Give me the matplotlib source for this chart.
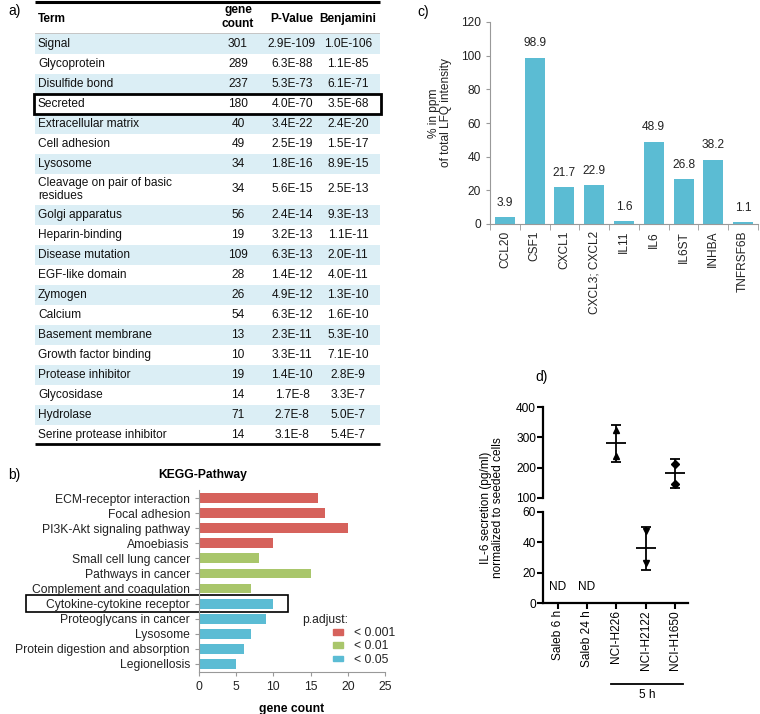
import matplotlib.pyplot as plt
from matplotlib.patches import Rectangle, Patch
import matplotlib.transforms as mtransforms

plt.rcParams['font.family'] = ['Liberation Sans', 'DejaVu Sans']

# ---- a) functional annotation table
terms = ["Signal", "Glycoprotein", "Disulfide bond", "Secreted", "Extracellular matrix",
         "Cell adhesion", "Lysosome", "Cleavage on pair of basic\nresidues", "Golgi apparatus",
         "Heparin-binding", "Disease mutation", "EGF-like domain", "Zymogen", "Calcium",
         "Basement membrane", "Growth factor binding", "Protease inhibitor", "Glycosidase",
         "Hydrolase", "Serine protease inhibitor"]
gene_counts = [301, 289, 237, 180, 40, 49, 34, 34, 56, 19, 109, 28, 26, 54, 13, 10, 19, 14, 71, 14]
p_values = ["2.9E-109", "6.3E-88", "5.3E-73", "4.0E-70", "3.4E-22", "2.5E-19", "1.8E-16",
            "5.6E-15", "2.4E-14", "3.2E-13", "6.3E-13", "1.4E-12", "4.9E-12", "6.3E-12",
            "2.3E-11", "3.3E-11", "1.4E-10", "1.7E-8", "2.7E-8", "3.1E-8"]
benjamini = ["1.0E-106", "1.1E-85", "6.1E-71", "3.5E-68", "2.4E-20", "1.5E-17", "8.9E-15",
             "2.5E-13", "9.3E-13", "1.1E-11", "2.0E-11", "4.0E-11", "1.3E-10", "1.6E-10",
             "5.3E-10", "7.1E-10", "2.8E-9", "3.3E-7", "5.0E-7", "5.4E-7"]
highlight_term = "Secreted"

# ---- b) KEGG pathways
kegg_terms = ["ECM-receptor interaction", "Focal adhesion", "PI3K-Akt signaling pathway",
              "Amoebiasis", "Small cell lung cancer", "Pathways in cancer",
              "Complement and coagulation", "Cytokine-cytokine receptor",
              "Proteoglycans in cancer", "Lysosome", "Protein digestion and absorption",
              "Legionellosis"]
kegg_counts = [16, 17, 20, 10, 8, 15, 7, 10, 9, 7, 6, 5]
kegg_padj = ["< 0.001", "< 0.001", "< 0.001", "< 0.001", "< 0.01", "< 0.01", "< 0.01",
             "< 0.05", "< 0.05", "< 0.05", "< 0.05", "< 0.05"]
kegg_highlight = "Cytokine-cytokine receptor"
padj_levels = ["< 0.001", "< 0.01", "< 0.05"]
padj_colors = {"< 0.001": "#d6625c", "< 0.01": "#a9c66b", "< 0.05": "#5bbcd4"}

# ---- c) cytokines
cyto_names = ["CCL20", "CSF1", "CXCL1", "CXCL3; CXCL2", "IL11", "IL6", "IL6ST", "INHBA", "TNFRSF6B"]
cyto_ppm = [3.9, 98.9, 21.7, 22.9, 1.6, 48.9, 26.8, 38.2, 1.1]

# ---- d) IL-6 secretion
il6_groups = ["Saleb 6 h", "Saleb 24 h", "NCI-H226", "NCI-H2122", "NCI-H1650"]
il6_mean = [None, None, 281, 36, 181]
il6_sd = [None, None, 61, 14, 47]
il6_points = [[], [], [323, 237], [47.5, 26.5], [213, 147]]
il6_markers = [None, None, "^", "v", "D"]

W, H = 760, 714
fig = plt.figure(figsize=(W / 100, H / 100), dpi=100)


def box(l, t, r, b):
    return [l / W, 1 - b / H, (r - l) / W, (b - t) / H]


# ================= a)
axt = fig.add_axes(box(35, 2, 380, 445))
axt.set_xlim(0, 345)
axt.set_ylim(443, 0)
axt.axis('off')
fs = 8.6
axt.plot([0, 345], [0, 0], color='black', lw=2.2, solid_capstyle='butt', clip_on=False)
axt.text(3, 17, "Term", fontsize=fs, fontweight='bold', va='center')
axt.text(203, 15, "gene\ncount", fontsize=fs, fontweight='bold', va='center', ha='center', linespacing=1.15)
axt.text(257, 17, "P-Value", fontsize=fs, fontweight='bold', va='center', ha='center')
axt.text(313, 17, "Benjamini", fontsize=fs, fontweight='bold', va='center', ha='center')
axt.plot([0, 345], [31, 31], color='#bbbbbb', lw=0.6)
y = 32
for i, t in enumerate(terms):
    h = 20 + 11 * t.count("\n")
    if i % 2 == 0:
        axt.add_patch(Rectangle((0, y), 345, h, color='#dbeef5', lw=0))
    axt.text(3, y + h / 2, t, fontsize=fs, va='center', linespacing=1.05, color='#111')
    axt.text(203, y + h / 2, str(gene_counts[i]), fontsize=fs, va='center', ha='center', color='#111')
    axt.text(257, y + h / 2, p_values[i], fontsize=fs, va='center', ha='center', color='#111')
    axt.text(313, y + h / 2, benjamini[i], fontsize=fs, va='center', ha='center', color='#111')
    if t == highlight_term:
        axt.add_patch(Rectangle((-1.5, y), 347, h, fill=False, ec='black', lw=2, clip_on=False, zorder=5))
    y += h
axt.plot([0, 345], [y - 1, y - 1], color='black', lw=2, solid_capstyle='butt', clip_on=False)

# ================= b)
fsb = 8.7
axb = fig.add_axes(box(199, 490, 385, 672))
pos = list(range(len(kegg_terms)))
axb.barh(pos, kegg_counts, height=0.66, color=[padj_colors[p] for p in kegg_padj])
axb.set_xlim(0, 25)
axb.set_ylim(len(kegg_terms) - 0.45, -0.55)
axb.set_yticks(pos)
axb.set_yticklabels(kegg_terms, fontsize=fsb, color='#222')
axb.set_xticks(range(0, 26, 5))
axb.tick_params(axis='x', labelsize=fsb, labelcolor='#222', color='#999', length=3)
axb.tick_params(axis='y', color='#999', length=3)
for s in ['top', 'right']:
    axb.spines[s].set_visible(False)
for s in ['left', 'bottom']:
    axb.spines[s].set_color('#999')
axb.set_xlabel("gene count", fontsize=fsb, fontweight='bold', labelpad=7)
k = kegg_terms.index(kegg_highlight)
axb.add_patch(Rectangle((-23.3, k - 0.56), 35.2, 1.12, fill=False, ec='black', lw=1.2, clip_on=False))
fig.text(203 / W, 1 - 475 / H, "KEGG-Pathway", fontsize=fsb, fontweight='bold', ha='center', va='center')
fig.text(302 / W, 1 - 620 / H, "p.adjust:", fontsize=fsb, va='center', color='#222')
handles = [Patch(color=padj_colors[p]) for p in padj_levels]
fig.legend(handles, padj_levels, loc='upper left', bbox_to_anchor=(333 / W, 1 - 627 / H),
           frameon=False, fontsize=fsb, handlelength=0.85, handleheight=0.35,
           labelspacing=0.12, handletextpad=0.9, borderpad=0, borderaxespad=0,
           labelcolor='#222')

# ================= c)
axc = fig.add_axes(box(490, 22, 758, 224))
xc = list(range(len(cyto_names)))
axc.bar(xc, cyto_ppm, width=0.67, color='#5bbcd3')
for x, v in zip(xc, cyto_ppm):
    axc.annotate(f"{v:.1f}", (x, v), xytext=(0, 6), textcoords='offset points',
                 ha='center', va='bottom', fontsize=8.6, color='#222')
axc.set_xlim(-0.5, len(cyto_names) - 0.5)
axc.set_ylim(0, 120)
axc.set_yticks(range(0, 121, 20))
axc.set_xticks(xc)
axc.set_xticklabels(cyto_names, rotation=90, fontsize=8.6, color='#222')
axc.set_xticks([x - 0.5 for x in range(len(cyto_names) + 1)], minor=True)
axc.tick_params(axis='x', which='major', length=0, pad=5)
axc.tick_params(axis='x', which='minor', length=4, color='#999')
axc.tick_params(axis='y', labelsize=8.6, labelcolor='#222', color='#999', length=3)
for s in ['top', 'right']:
    axc.spines[s].set_visible(False)
for s in ['left', 'bottom']:
    axc.spines[s].set_color('#999')
axc.set_ylabel("% in ppm\nof total LFQ intensity", fontsize=8.6, color='#222', linespacing=1.1)
axc.yaxis.set_label_coords(-0.14, 0.55)

# ================= d)
ax_up = fig.add_axes(box(543, 407, 688, 498))
ax_lo = fig.add_axes(box(543, 512, 688, 603))
ax_up.set_ylim(100, 400)
ax_lo.set_ylim(0, 60)
ax_up.set_yticks(range(100, 401, 100))
ax_lo.set_yticks(range(0, 61, 20))
for a in (ax_up, ax_lo):
    a.set_xlim(-0.5, len(il6_groups) - 0.55)
    a.patch.set_alpha(0)
    for s in ['top', 'right']:
        a.spines[s].set_visible(False)
    for s in ['left', 'bottom']:
        a.spines[s].set_linewidth(1.6)
    a.tick_params(width=1.5, length=4, labelsize=8.6, pad=1)
ax_up.spines['bottom'].set_visible(False)
ax_up.set_xticks([])
ax_lo.set_xticks(range(len(il6_groups)))
ax_lo.set_xticklabels(il6_groups, rotation=90, fontsize=8.6)
for i, m in enumerate(il6_mean):
    if m is None:
        ax_lo.text(i, 10.5, "ND", ha='center', va='center', fontsize=8.6)
        continue
    a = ax_up if m > 60 else ax_lo
    a.errorbar(i, m, yerr=il6_sd[i], fmt='none', ecolor='black', elinewidth=1.3,
               capsize=3.8, capthick=1.3, clip_on=False)
    a.plot(i, m, marker='_', markersize=14, mew=1.3, color='black', clip_on=False)
    a.plot([i] * len(il6_points[i]), il6_points[i], linestyle='none', marker=il6_markers[i],
           markersize=4, color='black', clip_on=False)
trans = mtransforms.blended_transform_factory(ax_lo.transData, ax_lo.transAxes)
ax_lo.plot([1.82, 4.27], [-0.89, -0.89], color='black', lw=1.3, transform=trans, clip_on=False)
ax_lo.text(3.05, -1.01, "5 h", transform=trans, ha='center', va='center', fontsize=8.6)
fig.text(492 / W, 1 - 508 / H, "IL-6 secretion (pg/ml)\nnormalized to seeded cells",
         rotation=90, ha='center', va='center', fontsize=8.6, linespacing=1.1)

# panel letters
fig.text(8 / W, 1 - 11 / H, "a)", fontsize=10, va='center')
fig.text(8 / W, 1 - 475 / H, "b)", fontsize=10, va='center')
fig.text(417 / W, 1 - 12 / H, "c)", fontsize=10, va='center')
fig.text(535 / W, 1 - 377 / H, "d)", fontsize=10, va='center')

plt.savefig("out.png", dpi=100)
